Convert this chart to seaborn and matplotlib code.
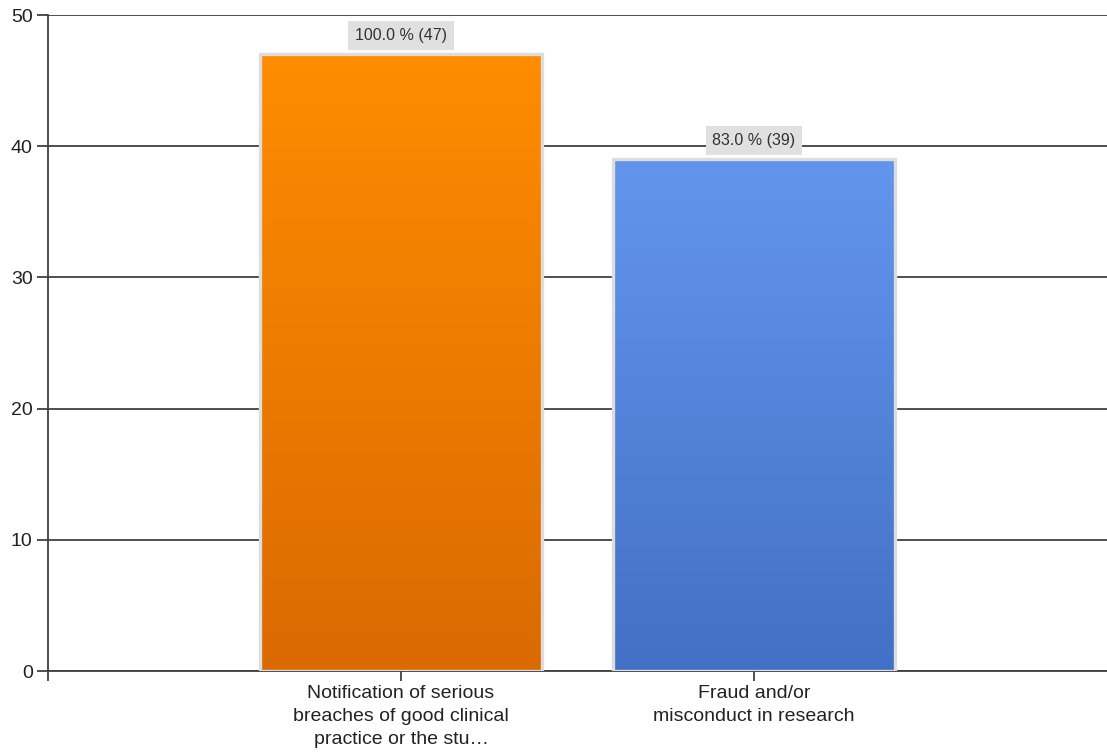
import numpy as np
import pandas as pd
import matplotlib
matplotlib.use("Agg")
import matplotlib.pyplot as plt
import seaborn as sns
from matplotlib.colors import LinearSegmentedColormap

categories = ["Notification of serious\nbreaches of good clinical\npractice or the stu\u2026",
              "Fraud and/or\nmisconduct in research"]
counts = [47, 39]
percents = [100.0, 83.0]
top_colors = ["#FF8C00", "#6495ED"]
bottom_colors = ["#DA6A00", "#4270C6"]
yticks = [0, 10, 20, 30, 40, 50]

sns.set_theme(style="white")
plt.rcParams["font.family"] = ["Liberation Sans", "DejaVu Sans"]

df = pd.DataFrame({"cat": categories, "count": counts})

fig = plt.figure(figsize=(11.07, 7.56), dpi=100)
ax = fig.add_axes([48 / 1107, 85 / 756, 1 - 48 / 1107, 656 / 756])

sns.barplot(data=df, x="cat", y="count", ax=ax, width=0.8, color="white", zorder=2)

for i, p in enumerate(ax.patches):
    x0, w, h = p.get_x(), p.get_width(), p.get_height()
    cmap = LinearSegmentedColormap.from_list("g", [bottom_colors[i], top_colors[i]])
    grad = np.linspace(1, 0, 256).reshape(-1, 1)
    ax.imshow(grad, cmap=cmap, aspect="auto", extent=(x0, x0 + w, 0, h),
              zorder=2, vmin=0, vmax=1, interpolation="bilinear")
    p.set_facecolor("none")
    p.set_edgecolor("#DDDDDD")
    p.set_linewidth(2.4)
    p.set_zorder(3)
    ax.text(x0 + w / 2, h + 0.85, f"{percents[i]:.1f} % ({counts[i]})",
            ha="center", va="bottom", fontsize=11.5, color="#333333", zorder=4,
            bbox=dict(boxstyle="square,pad=0.42", facecolor="#E0E0E0", edgecolor="none"))

ax.set_xlim(-1, 2)
ax.set_ylim(0, 50)
ax.set_yticks(yticks)
ax.set_yticklabels([str(t) for t in yticks], fontsize=14, color="#222222")
ax.set_xticks([-1, 0, 1])
ax.set_xticklabels(["", categories[0], categories[1]], fontsize=14, color="#222222",
                   linespacing=1.45)
ax.set_xlabel("")
ax.set_ylabel("")

ax.grid(axis="y", color="#404040", linewidth=1.3, zorder=0)
ax.set_axisbelow(True)
for s in ["top", "right"]:
    ax.spines[s].set_visible(False)
for s in ["left", "bottom"]:
    ax.spines[s].set_color("#404040")
    ax.spines[s].set_linewidth(1.3)
ax.tick_params(axis="y", length=8, width=1.3, color="#404040", pad=3, left=True)
ax.tick_params(axis="x", length=7, width=1.3, color="#404040", pad=3, bottom=True)

fig.savefig("out.png", dpi=100)
